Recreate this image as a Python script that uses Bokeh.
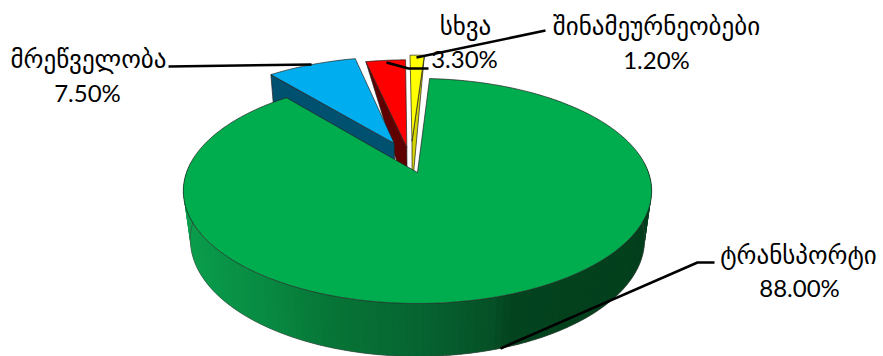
import math
from bokeh.plotting import figure
from bokeh.embed import file_html
from bokeh.resources import INLINE
from bokeh.core.properties import value

categories = ["ტრანსპორტი", "მრეწველობა", "სხვა", "შინამეურნეობები"]
shares = [88.0, 7.5, 3.3, 1.2]
share_labels = ["88.00%", "7.50%", "3.30%", "1.20%"]

top_colors = ["#00AD4E", "#00AEEF", "#FF0000", "#FFFF00"]
cut_colors = ["#03431E", "#005070", "#5F0000", "#D4D400"]
explode_uv = [(0.0, 0.0), (-0.105, 0.278), (-0.048, 0.238), (-0.025, 0.30)]
cut_side = [None, "start", "start", "end"]
cut_quad = [False, True, False, False]
START_DEG = 3.5

W, H = 883, 356
p = figure(width=W, height=H, x_range=(0, W), y_range=(H, 0),
           output_backend="svg", toolbar_location=None, min_border=0)
p.axis.visible = False
p.grid.visible = False
p.outline_line_color = None
p.background_fill_color = "white"

CX, CY, A, B, C, G, E = 417, 172, 109.5, 0.164, 231, 49.8, 0.03


def proj(u, v, z=0.0):
    w = 1 + B * v + E * z
    return CX + C * u / w, CY + (-A * v + G * z) / w


def rim(deg, off=(0, 0), z=0.0):
    a = math.radians(deg)
    return proj(off[0] + math.sin(a), off[1] + math.cos(a), z)


def mix(c1, c2, t):
    return "#%02x%02x%02x" % tuple(round(a + (b - a) * t) for a, b in zip(c1, c2))


WALL_STOPS = [(0.0, (10, 158, 76)), (0.17, (8, 138, 66)), (0.30, (7, 118, 55)),
              (0.52, (6, 98, 48)), (0.66, (5, 80, 38)), (0.70, (3, 67, 30)), (1.0, (3, 63, 28))]


def wall_color(x):
    t = max(0, min(1, (x - 183) / (651 - 183)))
    for (t0, c0), (t1, c1) in zip(WALL_STOPS, WALL_STOPS[1:]):
        if t <= t1:
            return mix(c0, c1, (t - t0) / (t1 - t0))
    return "#033f1c"


spans = []
ang = START_DEG
for s in shares:
    spans.append((ang, ang + s * 3.6))
    ang += s * 3.6


def arc_pts(a0, a1, off, z=0.0, n=None):
    n = n or max(4, int(abs(a1 - a0)))
    return [rim(a0 + (a1 - a0) * i / n, off, z) for i in range(n + 1)]


EDGE = "#222222"
for i in [2, 1, 3, 0]:
    a0, a1 = spans[i]
    off = explode_uv[i]
    apex = proj(off[0], off[1])
    apex_b = proj(off[0], off[1], 1)

    if i == 0:
        n = 120
        for k in range(n):
            b0 = 84 + 190 * k / n
            b1 = b0 + 190 / n + 1.5
            s = arc_pts(b0, b1, off, 0, 3)
            d = arc_pts(b1, b0, off, 1, 3)
            xs = [q[0] for q in s + d]
            ys = [q[1] for q in s + d]
            col = wall_color(s[1][0])
            p.patch(xs, ys, fill_color=col, line_color=None)
        low = arc_pts(84, 276, off, 1, 190)
        p.line([q[0] for q in low], [q[1] for q in low], line_color="#444444", line_width=0.6)
    else:
        edge_deg = a0 if cut_side[i] == "start" else a1
        o_t, o_b = rim(edge_deg, off), rim(edge_deg, off, 1)
        if cut_quad[i]:
            cx, cy = [apex[0], o_t[0], o_b[0], apex_b[0]], [apex[1], o_t[1], o_b[1], apex_b[1]]
        else:
            cx, cy = [apex[0], o_t[0], apex_b[0]], [apex[1], o_t[1], apex_b[1]]
        p.patch(cx, cy, fill_color=cut_colors[i], line_color=EDGE, line_width=0.7)

    arc = arc_pts(a0, a1, off)
    xs = [apex[0]] + [q[0] for q in arc]
    ys = [apex[1]] + [q[1] for q in arc]
    p.patch(xs, ys, fill_color=top_colors[i], line_color=EDGE, line_width=0.7)

leader_x = [[500, 697, 714], [168, 311], [386, 408, 428], [416, 545]]
leader_y = [[348, 262, 262], [66, 64], [62, 68, 68], [57, 30]]
p.multi_line(leader_x, leader_y, line_color="black", line_width=2.5)

name_x = [798, 88, 465, 656]
name_y = [255, 59, 26, 26]
pct_x = [799, 87, 464, 656]
pct_y = [287, 92, 58, 59]
p.text(name_x, name_y, text=categories, text_font=value("DejaVu Sans"), text_font_size="25px",
       text_align="center", text_baseline="middle", text_color="black")
p.text(pct_x, pct_y, text=share_labels, text_font=value("Lato"), text_font_size="24px",
       text_align="center", text_baseline="middle", text_color="black")

open("out.html", "w").write(file_html(p, INLINE))
